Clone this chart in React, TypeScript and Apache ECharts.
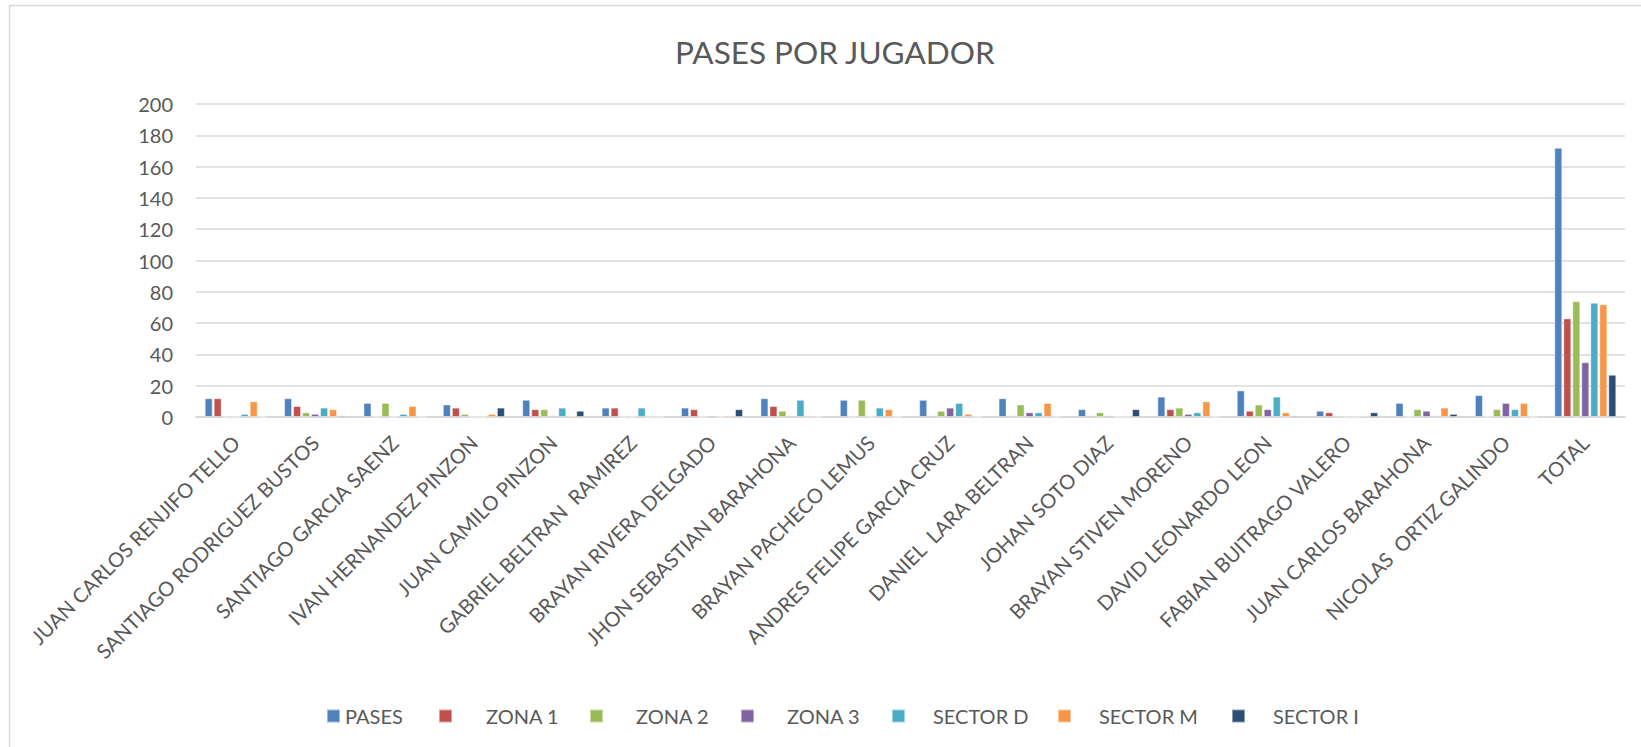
import React, { useEffect, useRef } from "react";
import * as echarts from "echarts";

const categories = [
  "JUAN CARLOS RENJIFO TELLO",
  "SANTIAGO RODRIGUEZ BUSTOS",
  "SANTIAGO GARCIA SAENZ",
  "IVAN HERNANDEZ PINZON",
  "JUAN CAMILO PINZON",
  "GABRIEL BELTRAN  RAMIREZ",
  "BRAYAN RIVERA DELGADO",
  "JHON SEBASTIAN BARAHONA",
  "BRAYAN PACHECO LEMUS",
  "ANDRES FELIPE GARCIA CRUZ",
  "DANIEL  LARA BELTRAN",
  "JOHAN SOTO DIAZ",
  "BRAYAN STIVEN MORENO",
  "DAVID LEONARDO LEON",
  "FABIAN BUITRAGO VALERO",
  "JUAN CARLOS BARAHONA",
  "NICOLAS  ORTIZ GALINDO",
  "TOTAL",
];

const seriesNames = ["PASES", "ZONA 1", "ZONA 2", "ZONA 3", "SECTOR D", "SECTOR M", "SECTOR I"];

const pases = [12, 12, 9, 8, 11, 6, 6, 12, 11, 11, 12, 5, 13, 17, 4, 9, 14, 172];
const zona1 = [12, 7, 0, 6, 5, 6, 5, 7, 0, 1, 1, 1, 5, 4, 3, 0, 0, 63];
const zona2 = [0, 3, 9, 2, 5, 0, 0, 4, 11, 4, 8, 3, 6, 8, 1, 5, 5, 74];
const zona3 = [0, 2, 0, 0, 1, 0, 1, 1, 0, 6, 3, 1, 2, 5, 0, 4, 9, 35];
const sectorD = [2, 6, 2, 0, 6, 6, 0, 11, 6, 9, 3, 0, 3, 13, 0, 1, 5, 73];
const sectorM = [10, 5, 7, 2, 1, 0, 1, 1, 5, 2, 9, 0, 10, 3, 1, 6, 9, 72];
const sectorI = [0, 1, 0, 6, 4, 0, 5, 0, 0, 0, 0, 5, 0, 1, 3, 2, 0, 27];

const yTicks = [0, 20, 40, 60, 80, 100, 120, 140, 160, 180, 200];

const colors = ["#4F81BD", "#C0504D", "#9BBB59", "#8064A2", "#4BACC6", "#F79646", "#2C4D75"];

const legendLeft = [321, 433, 584, 735, 886, 1052, 1226];
const legendPad = [0, 29, 28, 28, 23, 23, 23];

const FONT = "Lato, 'Open Sans', sans-serif";
const TXT = "#595959";

export default function App() {
  const ref = useRef<HTMLDivElement>(null);
  useEffect(() => {
    if (!ref.current) return;
    const chart = echarts.init(ref.current, undefined, { renderer: "svg" });
    const allData = [pases, zona1, zona2, zona3, sectorD, sectorM, sectorI];
    const option: any = {
      animation: false,
      backgroundColor: "#ffffff",
      textStyle: { fontFamily: FONT },
      title: {
        text: "PASES POR JUGADOR",
        left: 670,
        top: 31,
        textStyle: { fontFamily: FONT, fontSize: 31.5, fontWeight: "normal", color: TXT },
      },
      graphic: [
        {
          type: "rect",
          shape: { x: 9.5, y: 5.5, width: 1700, height: 800 },
          style: { fill: "none", stroke: "#d9d9d9", lineWidth: 1.5 },
          silent: true,
        },
      ],
      legend: seriesNames.map((n, i) => ({
        data: [n],
        left: legendLeft[i],
        top: 701,
        icon: "rect",
        itemWidth: 13,
        itemHeight: 13,
        itemGap: 0,
        selectedMode: false,
        textStyle: {
          fontFamily: FONT,
          fontSize: 20,
          color: TXT,
          lineHeight: 20,
          padding: [0, 0, 0, legendPad[i]],
        },
      })),
      grid: { left: 196, right: 16, top: 104, bottom: 330, containLabel: false },
      xAxis: {
        type: "category",
        data: categories,
        axisTick: { show: false },
        axisLine: { lineStyle: { color: "#d9d9d9", width: 2 } },
        axisLabel: {
          interval: 0,
          rotate: 45,
          margin: 22,
          fontFamily: FONT,
          fontSize: 20.2,
          color: TXT,
        },
      },
      yAxis: {
        type: "value",
        min: 0,
        max: 200,
        interval: 20,
        axisLine: { show: false },
        axisTick: { show: false },
        splitLine: { lineStyle: { color: "#d9d9d9", width: 1.5 } },
        axisLabel: {
          margin: 23,
          fontFamily: FONT,
          fontSize: 20,
          color: TXT,
          formatter: (v: number) => (yTicks.includes(v) ? String(v) : ""),
        },
      },
      series: seriesNames.map((n, i) => ({
        name: n,
        type: "bar",
        data: allData[i],
        barWidth: 8,
        barGap: "12.5%",
        itemStyle: {
          color: colors[i],
          borderColor: "rgba(255,255,255,0.45)",
          borderWidth: 1,
        },
      })),
    };
    chart.setOption(option);
    return () => chart.dispose();
  }, []);
  return (
    <div
      ref={ref}
      style={{ position: "fixed", left: 0, top: 0, width: "1641px", height: "747px" }}
    />
  );
}
